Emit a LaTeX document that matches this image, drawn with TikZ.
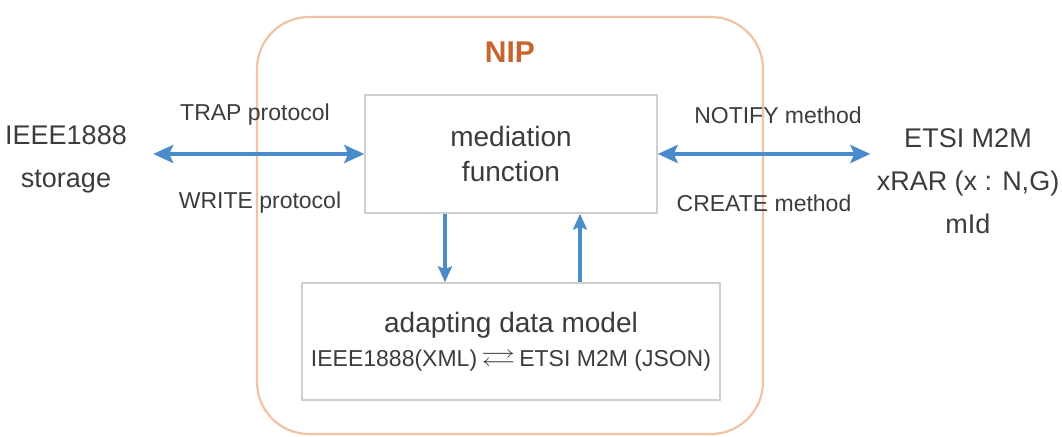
\documentclass[tikz,border=0pt]{standalone}
\usepackage{fontspec}
\setmainfont{Liberation Sans}
\usepackage{amssymb}
\usetikzlibrary{arrows.meta}
\definecolor{txt}{HTML}{3C3C3C}
\definecolor{nipline}{HTML}{F0C3A4}
\definecolor{niptitle}{HTML}{C8642E}
\definecolor{arrowblue}{HTML}{4A8BCB}
\definecolor{boxline}{HTML}{CFCFCF}
\newcommand{\convarrow}{\,\scalebox{1.5}[1.1]{$\rightleftarrows$}\,}
\tikzset{
  plain/.style={text=txt, inner sep=2pt, align=center},
  label/.style={plain, font=\fontsize{11.5}{13}\selectfont},
  ends/.style={plain, font=\fontsize{13.5}{21.5}\selectfont},
  funcbox/.style={draw=boxline, line width=0.7pt, fill=white, text=txt, align=center},
  bigarrow/.style={draw=arrowblue, line width=2.2pt,
    {Stealth[length=10pt,width=9pt,inset=2pt]}-{Stealth[length=10pt,width=9pt,inset=2pt]}},
  smallarrow/.style={draw=arrowblue, line width=1.6pt,
    -{Stealth[length=8pt,width=7pt,inset=1.5pt]}}
}
\begin{document}
\begin{tikzpicture}[x=0.5pt, y=-0.5pt]
  \useasboundingbox (0,0) rectangle (1062,437);

  % NIP container
  \node[draw=nipline, line width=1.1pt, rounded corners=26pt,
        minimum width=253pt, minimum height=208.5pt, inner sep=0pt]
        (nip) at (510,225.5) {};
  \node[text=niptitle, font=\fontsize{15}{18}\selectfont\bfseries] (niptitle) at (510,52) {NIP};

  % functional blocks
  \node[funcbox, minimum width=146pt, minimum height=59pt,
        font=\fontsize{14}{17.5}\selectfont] (med) at (511,154)
        {mediation\\function};
  \node[funcbox, minimum width=209pt, minimum height=58.5pt,
        font=\fontsize{14}{18}\selectfont] (adapt) at (511,341.5)
        {adapting data model\\[-1pt]
         {\fontsize{11.5}{13}\selectfont IEEE1888(XML)\convarrow ETSI M2M (JSON)}};

  % end points
  \node[ends] (storage) at (66,159) {IEEE1888\\storage};
  \node[ends] (etsi) at (968,181) {ETSI M2M\\xRAR (x : N,G)\\mId};

  % protocol labels
  \node[label] (trap) at (255,115) {TRAP protocol};
  \node[label] (write) at (260,203) {WRITE protocol};
  \node[label] (notify) at (778,115) {NOTIFY method};
  \node[label] (create) at (764,203) {CREATE method};

  % connectors
  \draw[bigarrow] ([xshift=11pt]storage.east |- med.west) -- (med.west);
  \draw[bigarrow] (med.east) -- ([xshift=-1pt]etsi.west |- med.east);
  \draw[smallarrow] ([xshift=-33pt]med.south) -- ([xshift=-33pt]adapt.north);
  \draw[smallarrow] ([xshift=34.5pt]adapt.north) -- ([xshift=34.5pt]med.south);
\end{tikzpicture}
\end{document}
